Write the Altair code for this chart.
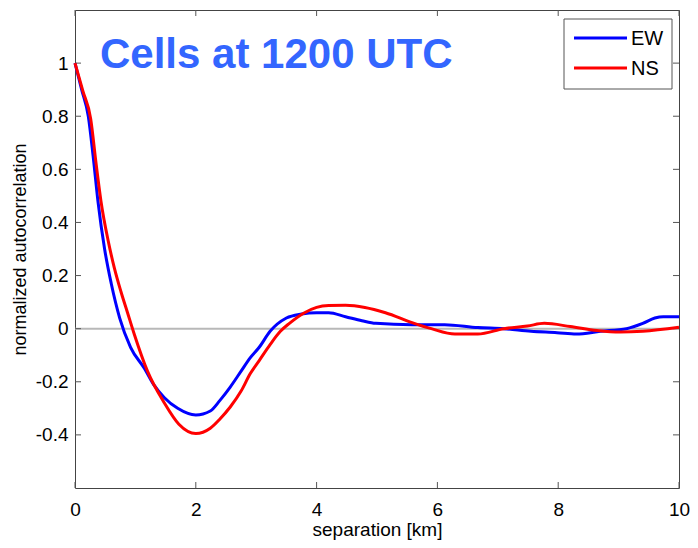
import altair as alt
import pandas as pd

# ---- data ----
ew_x = [0, 0.11, 0.22, 0.3, 0.38, 0.49, 0.6, 0.74, 0.92, 1.15, 1.3, 1.48, 1.7, 2.0, 2.24,
        2.4, 2.57, 2.75, 2.9, 3.05, 3.23, 3.5, 3.75, 4.0, 4.2, 4.48, 4.75, 4.98, 5.58,
        6.12, 6.67, 7.1, 7.55, 7.98, 8.3, 8.7, 9.13, 9.4, 9.6, 9.74, 10.0]
ew_y = [1.0, 0.90, 0.80, 0.65, 0.48, 0.30, 0.17, 0.04, -0.07, -0.15, -0.21, -0.26, -0.30,
        -0.325, -0.31, -0.27, -0.22, -0.16, -0.11, -0.07, -0.01, 0.04, 0.055, 0.06, 0.06,
        0.045, 0.03, 0.02, 0.015, 0.015, 0.004, 0.0, -0.01, -0.015, -0.02, -0.01, 0.0,
        0.02, 0.04, 0.045, 0.045]

ns_x = [0, 0.13, 0.26, 0.35, 0.43, 0.55, 0.65, 0.76, 0.87, 0.98, 1.2, 1.48, 1.72, 2.0,
        2.24, 2.4, 2.57, 2.75, 2.9, 3.05, 3.23, 3.4, 3.55, 3.8, 4.0, 4.2, 4.48, 4.8, 5.14,
        5.58, 5.9, 6.29, 6.67, 7.1, 7.49, 7.77, 8.2, 8.64, 9.03, 9.4, 10.0]
ns_y = [1.0, 0.895, 0.79, 0.62, 0.48, 0.33, 0.23, 0.14, 0.06, -0.02, -0.16, -0.28, -0.36,
        -0.395, -0.375, -0.34, -0.295, -0.235, -0.17, -0.12, -0.06, -0.01, 0.02, 0.06,
        0.08, 0.087, 0.088, 0.08, 0.06, 0.023, 0.0, -0.02, -0.02, 0.0, 0.01, 0.02, 0.008,
        -0.007, -0.013, -0.01, 0.005]

series_names = ["EW", "NS"]
series_colors = ["#0000ff", "#ff0000"]
x_ticks = [0, 2, 4, 6, 8, 10]
y_ticks = [-0.4, -0.2, 0, 0.2, 0.4, 0.6, 0.8, 1.0]
title_text = ["Cells at 1200 UTC"]

W, H = 604, 478
FONT = "Liberation Sans"

df = pd.concat([
    pd.DataFrame({"sep": ew_x, "ac": ew_y, "dir": "EW"}),
    pd.DataFrame({"sep": ns_x, "ac": ns_y, "dir": "NS"}),
])

xs = alt.Scale(domain=[0, 10], nice=False, zero=False)
ys = alt.Scale(domain=[-0.6, 1.2], nice=False, zero=False)
cs = alt.Scale(domain=series_names, range=series_colors)

x_axis = alt.Axis(values=x_ticks, title="separation [km]", labelPadding=12,
                  labelFlush=False, titlePadding=1, titleFontSize=19)
y_axis = alt.Axis(values=y_ticks, title="normalized autocorrelation",
                  labelExpr="replace(format(datum.value, '~g'), '\u2212', '-')",
                  labelFlush=False, labelPadding=7, titlePadding=6, titleFontSize=18)


def X(field):
    return alt.X(field, scale=xs, axis=x_axis, title="separation [km]")


def Y(field):
    return alt.Y(field, scale=ys, axis=y_axis, title="normalized autocorrelation")


zero_line = alt.Chart(pd.DataFrame({"y": [0]})).mark_rule(
    color="#b8b8b8", strokeWidth=2
).encode(y=Y("y:Q"))

lines = alt.Chart(df).mark_line(strokeWidth=3, interpolate="monotone").encode(
    x=X("sep:Q"),
    y=Y("ac:Q"),
    color=alt.Color("dir:N", scale=cs, legend=None),
)

tick_x = pd.DataFrame({"v": x_ticks})
tick_y = pd.DataFrame({"v": y_ticks})
tc = "#555555"
ticks_bottom = alt.Chart(tick_x).mark_rule(color=tc).encode(
    x=X("v:Q"), y=alt.value(H - 6), y2=alt.value(H))
ticks_top = alt.Chart(tick_x).mark_rule(color=tc).encode(
    x=X("v:Q"), y=alt.value(0), y2=alt.value(6))
ticks_left = alt.Chart(tick_y).mark_rule(color=tc).encode(
    y=Y("v:Q"), x=alt.value(0), x2=alt.value(6))
ticks_right = alt.Chart(tick_y).mark_rule(color=tc).encode(
    y=Y("v:Q"), x=alt.value(W - 6), x2=alt.value(W))

title = alt.Chart(pd.DataFrame({"t": title_text})).mark_text(
    align="left", baseline="alphabetic", fontSize=42, fontWeight="bold",
    font=FONT, color="#3366ff"
).encode(x=alt.value(25), y=alt.value(58), text="t:N")

# custom legend (MATLAB style box)
LX = W - 115
leg_box = alt.Chart(pd.DataFrame({"a": [0]})).mark_rect(
    fill="white", stroke="#555555", strokeWidth=1
).encode(x=alt.value(LX), x2=alt.value(LX + 108), y=alt.value(9), y2=alt.value(79))

leg_layers = []
for name, ypix in zip(series_names, [28, 58]):
    ld = pd.DataFrame({"dir": [name]})
    leg_layers.append(alt.Chart(ld).mark_rule(strokeWidth=3).encode(
        x=alt.value(LX + 10), x2=alt.value(LX + 63), y=alt.value(ypix),
        color=alt.Color("dir:N", scale=cs, legend=None)))
    leg_layers.append(alt.Chart(ld).mark_text(
        align="left", baseline="middle", fontSize=20, font=FONT, color="black"
    ).encode(x=alt.value(LX + 67), y=alt.value(ypix + 1), text="dir:N"))

chart = alt.layer(
    zero_line, ticks_bottom, ticks_top, ticks_left, ticks_right, lines, title,
    leg_box, *leg_layers
).properties(
    width=W, height=H, autosize="none",
    padding={"left": 67, "top": 2, "right": 11, "bottom": 52},
).configure_view(stroke="#444444", strokeWidth=1).configure_axis(
    ticks=False, domain=False, grid=False, labelFont=FONT, labelFontSize=19,
    labelColor="black", titleFont=FONT, titleFontWeight="normal", titleColor="black",
)

chart.save("out.html", embed_options={"renderer": "svg", "actions": False})
